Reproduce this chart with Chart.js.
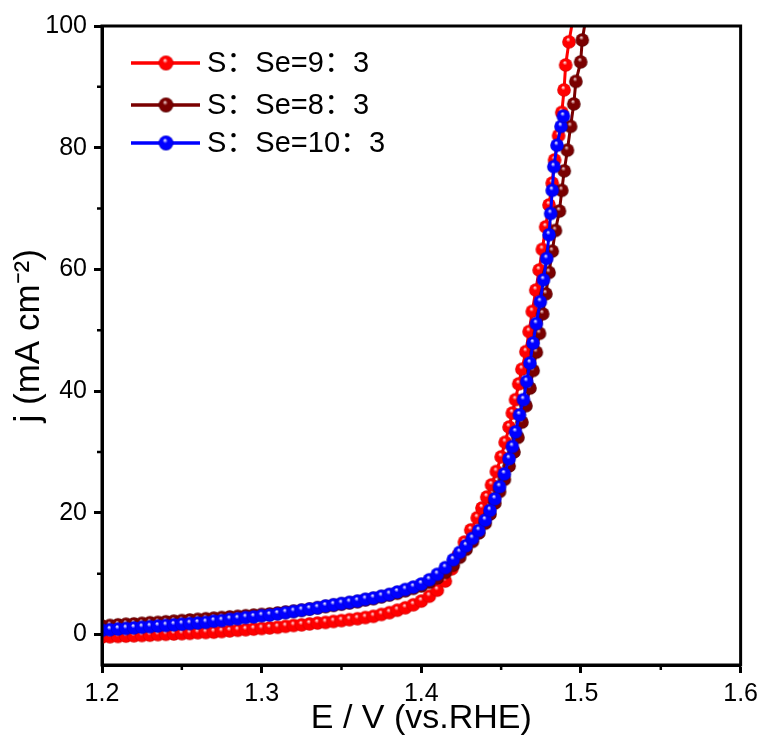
<!DOCTYPE html>
<html>
<head>
<meta charset="utf-8">
<script src="https://cdn.jsdelivr.net/npm/chart.js@4"></script>
<style>
  html, body { margin: 0; padding: 0; background: #fff; }
  #wrap { width: 764px; height: 745px; position: relative; }
</style>
</head>
<body>
<div id="wrap"><canvas id="lsv"></canvas></div>
<script>
// LSV curves, j vs E, three S:Se ratios.

const labels = ["S：Se=9：3", "S：Se=8：3", "S：Se=10：3"];
const colors = ["#ff0000", "#7a0000", "#0000ff"];

const xTicks = [1.2, 1.3, 1.4, 1.5, 1.6];
const xMinor = [1.25, 1.35, 1.45, 1.55];
const yTicks = [0, 20, 40, 60, 80, 100];
const yMinor = [10, 30, 50, 70, 90];

// S:Se = 9:3
const eRed = [1.200, 1.205, 1.210, 1.215, 1.220, 1.225, 1.230, 1.235, 1.240, 1.245,
  1.250, 1.255, 1.260, 1.265, 1.270, 1.275, 1.280, 1.285, 1.290, 1.295,
  1.300, 1.305, 1.310, 1.315, 1.320, 1.325, 1.330, 1.335, 1.340, 1.345,
  1.350, 1.355, 1.360, 1.365, 1.370, 1.375, 1.380, 1.385, 1.390, 1.395,
  1.400, 1.405, 1.410, 1.415, 1.419, 1.423, 1.427, 1.431, 1.435, 1.438,
  1.441, 1.444, 1.447, 1.450, 1.4525, 1.455, 1.457, 1.459, 1.461, 1.463,
  1.4655, 1.4675, 1.4695, 1.4717, 1.4738, 1.4758, 1.4779, 1.480, 1.482, 1.4835,
  1.486, 1.488, 1.4894, 1.4904, 1.4925, 1.4955];
const jRed = [-0.4, -0.35, -0.3, -0.25, -0.2, -0.15, -0.1, 0.0, 0.05, 0.1,
  0.15, 0.2, 0.3, 0.35, 0.4, 0.5, 0.6, 0.7, 0.8, 0.9,
  1.0, 1.1, 1.2, 1.35, 1.5, 1.6, 1.75, 1.9, 2.0, 2.15,
  2.3, 2.45, 2.6, 2.8, 3.0, 3.3, 3.6, 4.0, 4.4, 4.9,
  5.5, 6.3, 7.3, 8.8, 10.8, 13.0, 15.2, 17.2, 19.2, 20.8,
  22.6, 24.6, 26.8, 29.2, 31.6, 34.1, 36.4, 38.6, 41.2, 43.6,
  46.5, 49.8, 53.1, 56.6, 59.9, 63.3, 67.0, 70.6, 74.2, 78.0,
  82.0, 85.8, 89.5, 93.6, 97.4, 102.0];

// S:Se = 8:3
const eDark = [1.200, 1.205, 1.210, 1.215, 1.220, 1.225, 1.230, 1.235, 1.240, 1.245,
  1.250, 1.255, 1.260, 1.265, 1.270, 1.275, 1.280, 1.285, 1.290, 1.295,
  1.300, 1.305, 1.310, 1.315, 1.320, 1.325, 1.330, 1.335, 1.340, 1.345,
  1.350, 1.355, 1.360, 1.365, 1.370, 1.375, 1.380, 1.385, 1.390, 1.395,
  1.400, 1.405, 1.410, 1.415, 1.420, 1.424, 1.428, 1.432, 1.436, 1.440,
  1.443, 1.446, 1.449, 1.452, 1.455, 1.458, 1.4605, 1.463, 1.4655, 1.468,
  1.470, 1.472, 1.474, 1.476, 1.478, 1.480, 1.482, 1.484, 1.4865, 1.488,
  1.4895, 1.4915, 1.4935, 1.4955, 1.4968, 1.4998, 1.5008, 1.5035];
const jDark = [1.4, 1.5, 1.6, 1.7, 1.75, 1.85, 1.95, 2.0, 2.1, 2.2,
  2.3, 2.4, 2.5, 2.6, 2.7, 2.8, 2.9, 3.0, 3.1, 3.2,
  3.3, 3.4, 3.55, 3.7, 3.85, 4.0, 4.2, 4.4, 4.6, 4.8,
  5.0, 5.2, 5.4, 5.7, 5.9, 6.2, 6.5, 6.8, 7.2, 7.6,
  8.0, 8.6, 9.3, 10.2, 11.4, 12.7, 14.0, 15.3, 16.7, 18.3,
  19.8, 21.6, 23.5, 25.5, 27.7, 30.0, 32.4, 34.9, 37.6, 40.5,
  43.4, 46.4, 49.5, 52.7, 56.0, 59.5, 63.0, 66.4, 69.6, 73.0,
  76.2, 79.6, 83.5, 87.2, 90.9, 94.1, 97.7, 102.0];

// S:Se = 10:3
const eBlue = [1.200, 1.205, 1.210, 1.215, 1.220, 1.225, 1.230, 1.235, 1.240, 1.245,
  1.250, 1.255, 1.260, 1.265, 1.270, 1.275, 1.280, 1.285, 1.290, 1.295,
  1.300, 1.305, 1.310, 1.315, 1.320, 1.325, 1.330, 1.335, 1.340, 1.345,
  1.350, 1.355, 1.360, 1.365, 1.370, 1.375, 1.380, 1.385, 1.390, 1.395,
  1.400, 1.405, 1.410, 1.415, 1.420, 1.424, 1.428, 1.432, 1.436, 1.440,
  1.443, 1.446, 1.449, 1.452, 1.455, 1.457, 1.459, 1.4615, 1.464, 1.466,
  1.468, 1.470, 1.472, 1.4745, 1.4765, 1.4785, 1.480, 1.481, 1.482, 1.483,
  1.485, 1.4875, 1.489];
const jBlue = [0.7, 0.8, 0.9, 1.0, 1.1, 1.2, 1.3, 1.4, 1.5, 1.6,
  1.7, 1.8, 1.9, 2.0, 2.2, 2.3, 2.5, 2.6, 2.8, 2.9,
  3.1, 3.2, 3.4, 3.6, 3.8, 4.0, 4.2, 4.4, 4.7, 4.9,
  5.1, 5.3, 5.5, 5.8, 6.0, 6.3, 6.6, 7.0, 7.4, 7.8,
  8.3, 9.0, 9.9, 11.0, 12.3, 13.5, 14.6, 15.8, 17.1, 18.8,
  20.4, 22.3, 24.3, 26.4, 28.9, 30.9, 33.3, 36.1, 38.6, 41.6,
  44.6, 47.9, 51.1, 54.7, 58.3, 61.8, 65.7, 69.2, 73.0, 76.9,
  80.4, 83.5, 85.2];

const FONT = '"Liberation Sans", Arial, "Noto Sans CJK SC", sans-serif';

// shaded ball used as marker
function ball(base, light, edge, r) {
  const c = document.createElement("canvas");
  const s = Math.ceil(r * 2 + 2);
  c.width = s; c.height = s;
  const g = c.getContext("2d");
  const cx = s / 2, cy = s / 2;
  const grad = g.createRadialGradient(cx - r * 0.15, cy - r * 0.4, r * 0.05, cx, cy, r);
  grad.addColorStop(0, light);
  grad.addColorStop(0.3, base);
  grad.addColorStop(0.85, base);
  grad.addColorStop(1, edge);
  g.fillStyle = grad;
  g.beginPath();
  g.arc(cx, cy, r, 0, Math.PI * 2);
  g.fill();
  return c;
}

const shades = [
  ["#ff0000", "#ffe0e0", "#d00000"],
  ["#7a0000", "#f0d0d0", "#500000"],
  ["#0000ff", "#eeeeff", "#0000c0"]
];
const marks = shades.map(s => ball(s[0], s[1], s[2], 6.8));
const legendMarks = shades.map(s => ball(s[0], s[1], s[2], 7.4));

function pts(e, j) { return e.map((x, i) => ({ x, y: j[i] })); }

const series = [pts(eRed, jRed), pts(eDark, jDark), pts(eBlue, jBlue)];

const datasets = series.map((d, i) => ({
  label: labels[i],
  data: d,
  parsing: false,
  borderColor: colors[i],
  backgroundColor: colors[i],
  borderWidth: 3,
  pointStyle: marks[i],
  pointRadius: 6,
  tension: 0,
  clip: 0,
  order: 3 - i
}));

const frame = {
  id: "frame",
  afterDraw(chart) {
    const { ctx, chartArea: a, scales } = chart;
    ctx.save();
    ctx.strokeStyle = "#000";
    ctx.lineWidth = 3;
    ctx.strokeRect(a.left, a.top, a.right - a.left, a.bottom - a.top);
    // minor ticks
    ctx.lineWidth = 2.5;
    ctx.beginPath();
    xMinor.forEach(v => {
      const px = scales.x.getPixelForValue(v);
      ctx.moveTo(px, a.bottom); ctx.lineTo(px, a.bottom + 5);
    });
    yMinor.forEach(v => {
      const py = scales.y.getPixelForValue(v);
      ctx.moveTo(a.left, py); ctx.lineTo(a.left - 5, py);
    });
    ctx.stroke();
    // legend
    const rows = [63, 105, 143];
    chart.data.datasets.forEach((ds, i) => {
      const y = rows[i];
      ctx.strokeStyle = ds.borderColor;
      ctx.lineWidth = 3.5;
      ctx.beginPath();
      ctx.moveTo(131, y); ctx.lineTo(200, y);
      ctx.stroke();
      const m = legendMarks[i];
      ctx.drawImage(m, 166 - m.width / 2, y - m.height / 2);
      ctx.fillStyle = "#000";
      ctx.font = "29px " + FONT;
      ctx.textBaseline = "middle";
      ctx.textAlign = "left";
      ctx.fillText(ds.label, 207, y + 1);
    });
    ctx.restore();
  }
};

new Chart(document.getElementById("lsv"), {
  type: "line",
  data: { datasets },
  plugins: [frame],
  options: {
    responsive: true,
    maintainAspectRatio: false,
    animation: false,
    events: [],
    layout: { padding: { left: 8, right: 22, top: 26, bottom: 0 } },
    plugins: { legend: { display: false }, tooltip: { enabled: false } },
    scales: {
      x: {
        type: "linear",
        min: 1.2, max: 1.6,
        afterBuildTicks: s => { s.ticks = xTicks.map(v => ({ value: v })); },
        afterFit: s => { s.height = 80; },
        ticks: { color: "#000", font: { family: FONT, size: 25 }, padding: 6, callback: v => v.toFixed(1), maxRotation: 0 },
        grid: { drawOnChartArea: false, drawTicks: true, tickLength: 8, tickWidth: 3, tickColor: "#000" },
        border: { display: true, color: "#000", width: 3 },
        title: { display: true, text: "E / V (vs.RHE)", color: "#000", font: { family: FONT, size: 34 }, padding: { top: 0, bottom: 6 } }
      },
      y: {
        type: "linear",
        min: -5, max: 100,
        afterBuildTicks: s => { s.ticks = yTicks.map(v => ({ value: v })); },
        afterFit: s => { s.width = 94; },
        ticks: { color: "#000", font: { family: FONT, size: 25 }, padding: 7 },
        grid: { drawOnChartArea: false, drawTicks: true, tickLength: 8, tickWidth: 3, tickColor: "#000" },
        border: { display: true, color: "#000", width: 3 },
        title: { display: true, text: "  j (mA cm⁻²)", color: "#000", font: { family: FONT, size: 35 }, padding: { top: 0, bottom: 0 } }
      }
    }
  }
});
</script>
</body>
</html>
